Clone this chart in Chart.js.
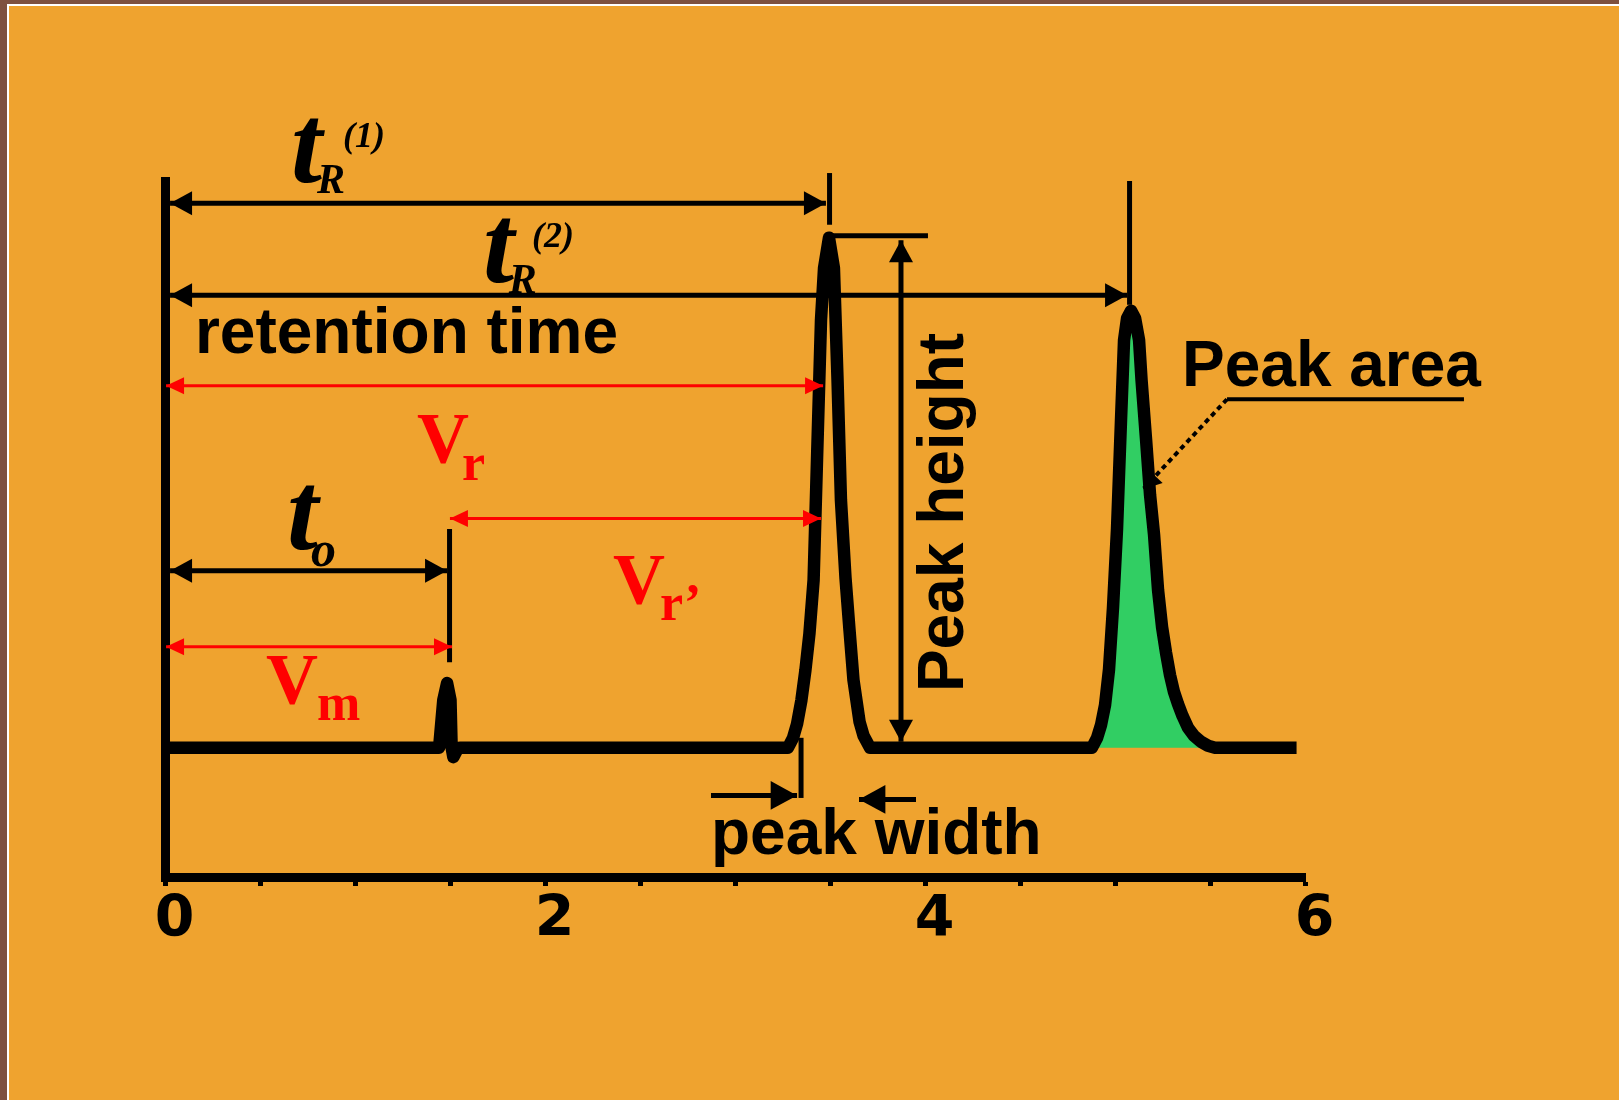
<!DOCTYPE html>
<html>
<head>
<meta charset="utf-8">
<title>Chromatogram</title>
<script src="https://cdn.jsdelivr.net/npm/chart.js@4.4.1/dist/chart.umd.min.js"></script>
<style>
  html, body { margin: 0; padding: 0; background: #EFA32F; }
  #wrap { width: 1619px; height: 1100px; }
</style>
</head>
<body>
<div id="wrap"><canvas id="chromChart" width="1619" height="1100"></canvas></div>
<script>
// retention time (min) and detector signal
const timeMin = [0, 1.440, 1.462, 1.482, 1.500, 1.506, 1.515, 1.534, 1.55,
  3.276, 3.303, 3.324, 3.347, 3.368, 3.389, 3.411, 3.429, 3.450, 3.466, 3.492,
  3.518, 3.537, 3.555, 3.579, 3.600, 3.621, 3.653, 3.674, 3.708,
  4.876, 4.903, 4.924, 4.945, 4.966, 4.987, 5.008, 5.029, 5.045, 5.061, 5.082,
  5.103, 5.124, 5.137, 5.161, 5.182, 5.203, 5.224, 5.245, 5.266, 5.287, 5.308,
  5.329, 5.353, 5.382, 5.413, 5.450, 5.487, 5.524, 5.953];
const signal = [0, 0, 9.6, 13.0, 9.6, 0, -1.9, -0.5, 0,
  0, 2.0, 4.8, 9.6, 15.6, 22.9, 33.7, 57.9, 86.0, 96.5, 102.6,
  96.5, 74.0, 49.8, 34.1, 23.7, 13.6, 5.2, 2.4, 0,
  0, 2.0, 4.6, 8.6, 15.8, 28.3, 44.0, 65.9, 82.0, 86.4, 87.9,
  86.4, 82.0, 74.0, 61.9, 50.8, 42.8, 31.7, 24.3, 19.1, 14.6, 11.2,
  8.8, 6.4, 4.0, 2.4, 1.2, 0.4, 0, 0];

// second peak is shaded as the "peak area"
const peakAreaStart = 4.876;
const peakAreaEnd = 5.524;

const tickValues = [0, 0.5, 1, 1.5, 2, 2.5, 3, 3.5, 4, 4.5, 5, 5.5, 6];
const tickLabels = ['0', '', '', '', '2', '', '', '', '4', '', '', '', '6'];

const points = timeMin.map((t, i) => ({ x: t, y: signal[i] }));
const areaPoints = points.filter(p => p.x >= peakAreaStart && p.x <= peakAreaEnd);

// dimension lines, in axis units
const blackArrows = [
  { from: [0.024, 109.5], to: [3.476, 109.5], heads: 'both' },   // tR(1)
  { from: [0.024, 91.0], to: [5.061, 91.0], heads: 'both' },     // tR(2)
  { from: [0.024, 35.6], to: [1.482, 35.6], heads: 'both' },     // to
  { from: [3.871, 102.1], to: [3.871, 1.2], heads: 'both' },     // peak height
  { from: [2.871, -9.6], to: [3.324, -9.6], heads: 'end', size: 1.2 },  // peak width
  { from: [3.950, -10.4], to: [3.650, -10.4], heads: 'end', size: 1.2 }
];
const blackLines = [
  { from: [3.495, 115.6], to: [3.495, 105.2] },
  { from: [5.074, 114.0], to: [5.074, 89.1] },
  { from: [1.495, 44.0], to: [1.495, 17.2] },
  { from: [3.508, 103.0], to: [4.013, 103.0] },
  { from: [3.345, 2.0], to: [3.345, -10.1] },
  { from: [5.587, 70.1], to: [6.834, 70.1], width: 4 }
];
const redArrows = [
  { from: [0.003, 72.8], to: [3.461, 72.8] },   // Vr
  { from: [1.497, 46.1], to: [3.450, 46.1] },   // Vr'
  { from: [0.003, 20.3], to: [1.508, 20.3] }    // Vm
];
const leader = { from: [5.587, 70.1], to: [5.145, 52.0] };

const sansBold = 'bold 64px "Liberation Sans", Arial, sans-serif';
const labels = [
  { text: 'retention time', at: [0.155, 79.4], font: sansBold, color: '#000' },
  { text: 'Peak area', at: [5.350, 72.8], font: sansBold, color: '#000' },
  { text: 'peak width', at: [2.871, -21.4], font: sansBold, color: '#000' },
  { text: 'Peak height', at: [4.197, 11.2], font: sansBold, color: '#000', rotate: -Math.PI / 2 },
  { text: 't', at: [0.661, 113.8], font: 'italic bold 112px "Liberation Serif", serif', color: '#000' },
  { text: 'R', at: [0.797, 111.6], font: 'italic bold 42px "Liberation Serif", serif', color: '#000' },
  { text: '(1)', at: [0.934, 120.8], font: 'italic bold 36px "Liberation Serif", serif', color: '#000' },
  { text: 't', at: [1.671, 93.7], font: 'italic bold 112px "Liberation Serif", serif', color: '#000' },
  { text: 'R', at: [1.807, 91.5], font: 'italic bold 42px "Liberation Serif", serif', color: '#000' },
  { text: '(2)', at: [1.929, 100.7], font: 'italic bold 36px "Liberation Serif", serif', color: '#000' },
  { text: 't', at: [0.639, 40.0], font: 'italic bold 112px "Liberation Serif", serif', color: '#000' },
  { text: 'o', at: [0.766, 36.6], font: 'italic bold 50px "Liberation Serif", serif', color: '#000' },
  { text: 'V', at: [1.324, 57.5], font: 'bold 72px "Liberation Serif", serif', color: '#FF0000' },
  { text: 'r', at: [1.561, 53.9], font: 'bold 52px "Liberation Serif", serif', color: '#FF0000' },
  { text: 'V', at: [2.355, 29.1], font: 'bold 72px "Liberation Serif", serif', color: '#FF0000' },
  { text: 'r\u2019', at: [2.603, 25.7], font: 'bold 52px "Liberation Serif", serif', color: '#FF0000' },
  { text: 'V', at: [0.529, 9.0], font: 'bold 72px "Liberation Serif", serif', color: '#FF0000' },
  { text: 'm', at: [0.797, 5.6], font: 'bold 52px "Liberation Serif", serif', color: '#FF0000' }
];

function arrowHead(ctx, x1, y1, x2, y2, len, half) {
  const a = Math.atan2(y2 - y1, x2 - x1);
  const bx = x2 - len * Math.cos(a), by = y2 - len * Math.sin(a);
  ctx.beginPath();
  ctx.moveTo(x2, y2);
  ctx.lineTo(bx + half * Math.sin(a), by - half * Math.cos(a));
  ctx.lineTo(bx - half * Math.sin(a), by + half * Math.cos(a));
  ctx.closePath();
  ctx.fill();
}

const framePlugin = {
  id: 'frame',
  beforeDraw(chart) {
    const ctx = chart.ctx;
    ctx.save();
    ctx.fillStyle = '#7E5140';
    ctx.fillRect(0, 0, chart.width, chart.height);
    ctx.fillStyle = '#FFFFFF';
    ctx.fillRect(7, 4, chart.width, chart.height);
    ctx.fillStyle = '#EFA32F';
    ctx.fillRect(9, 6, chart.width, chart.height);
    ctx.restore();
  }
};

const dimensionPlugin = {
  id: 'dimensions',
  afterDatasetsDraw(chart) {
    const { ctx, scales: { x, y } } = chart;
    const P = ([a, b]) => [x.getPixelForValue(a), y.getPixelForValue(b)];
    ctx.save();
    ctx.lineCap = 'butt';

    // plain black lines
    ctx.strokeStyle = '#000';
    blackLines.forEach(l => {
      const [x1, y1] = P(l.from), [x2, y2] = P(l.to);
      ctx.lineWidth = l.width || 5;
      ctx.beginPath(); ctx.moveTo(x1, y1); ctx.lineTo(x2, y2); ctx.stroke();
    });

    // black arrows
    ctx.fillStyle = '#000';
    blackArrows.forEach(a => {
      const [x1, y1] = P(a.from), [x2, y2] = P(a.to);
      const k = a.size || 1;
      ctx.lineWidth = 5;
      ctx.beginPath(); ctx.moveTo(x1, y1); ctx.lineTo(x2, y2); ctx.stroke();
      arrowHead(ctx, x1, y1, x2, y2, 22 * k, 12 * k);
      if (a.heads === 'both') arrowHead(ctx, x2, y2, x1, y1, 22 * k, 12 * k);
    });

    // dotted leader to the peak area
    {
      const [x1, y1] = P(leader.from), [x2, y2] = P(leader.to);
      ctx.lineWidth = 4;
      ctx.setLineDash([5, 4]);
      ctx.beginPath(); ctx.moveTo(x1, y1); ctx.lineTo(x2, y2); ctx.stroke();
      ctx.setLineDash([]);
      arrowHead(ctx, x1, y1, x2, y2, 18, 10);
    }

    // red volume arrows
    ctx.strokeStyle = '#FF0000';
    ctx.fillStyle = '#FF0000';
    redArrows.forEach(a => {
      const [x1, y1] = P(a.from), [x2, y2] = P(a.to);
      ctx.lineWidth = 3;
      ctx.beginPath(); ctx.moveTo(x1, y1); ctx.lineTo(x2, y2); ctx.stroke();
      arrowHead(ctx, x1, y1, x2, y2, 18, 8.5);
      arrowHead(ctx, x2, y2, x1, y1, 18, 8.5);
    });

    // text
    ctx.textBaseline = 'alphabetic';
    ctx.textAlign = 'left';
    labels.forEach(l => {
      const [tx, ty] = P(l.at);
      ctx.save();
      ctx.translate(tx, ty);
      if (l.rotate) ctx.rotate(l.rotate);
      ctx.font = l.font;
      ctx.fillStyle = l.color;
      ctx.fillText(l.text, 0, 0);
      ctx.restore();
    });
    ctx.restore();
  }
};

const ctx = document.getElementById('chromChart').getContext('2d');
new Chart(ctx, {
  type: 'line',
  data: {
    datasets: [
      {
        label: 'Signal',
        data: points,
        borderColor: '#000000',
        borderWidth: 12.5,
        borderJoinStyle: 'round',
        pointRadius: 0,
        tension: 0,
        fill: false,
        order: 0
      },
      {
        label: 'Peak area',
        data: areaPoints,
        borderColor: 'rgba(0,0,0,0)',
        borderWidth: 0,
        backgroundColor: '#31CE63',
        pointRadius: 0,
        tension: 0,
        fill: 'origin',
        order: 1
      }
    ]
  },
  options: {
    responsive: false,
    animation: false,
    events: [],
    layout: { padding: { left: 165.5, right: 313.5, top: 181, bottom: 0 } },
    plugins: {
      legend: { display: false },
      tooltip: { enabled: false }
    },
    scales: {
      x: {
        type: 'linear',
        min: 0,
        max: 6,
        afterBuildTicks: scale => { scale.ticks = tickValues.map(v => ({ value: v })); },
        afterFit: scale => { scale.height = 223; scale.paddingLeft = 0; scale.paddingRight = 0; },
        grid: { display: true, drawOnChartArea: false, drawTicks: true, tickLength: 9, tickWidth: 5, tickColor: '#000' },
        border: { display: true, color: '#000', width: 9 },
        ticks: {
          autoSkip: false,
          maxRotation: 0,
          labelOffset: 9,
          padding: 7,
          color: '#000',
          font: { family: 'DejaVu Sans', weight: 'bold', size: 57, lineHeight: 1 },
          callback: (value, index) => tickLabels[index]
        }
      },
      y: {
        type: 'linear',
        min: -26,
        max: 114,
        afterFit: scale => { scale.width = 0; scale.paddingTop = 0; scale.paddingBottom = 0; },
        grid: { display: false },
        border: { display: true, color: '#000', width: 9 },
        ticks: { display: false }
      }
    }
  },
  plugins: [framePlugin, dimensionPlugin]
});
</script>
</body>
</html>
